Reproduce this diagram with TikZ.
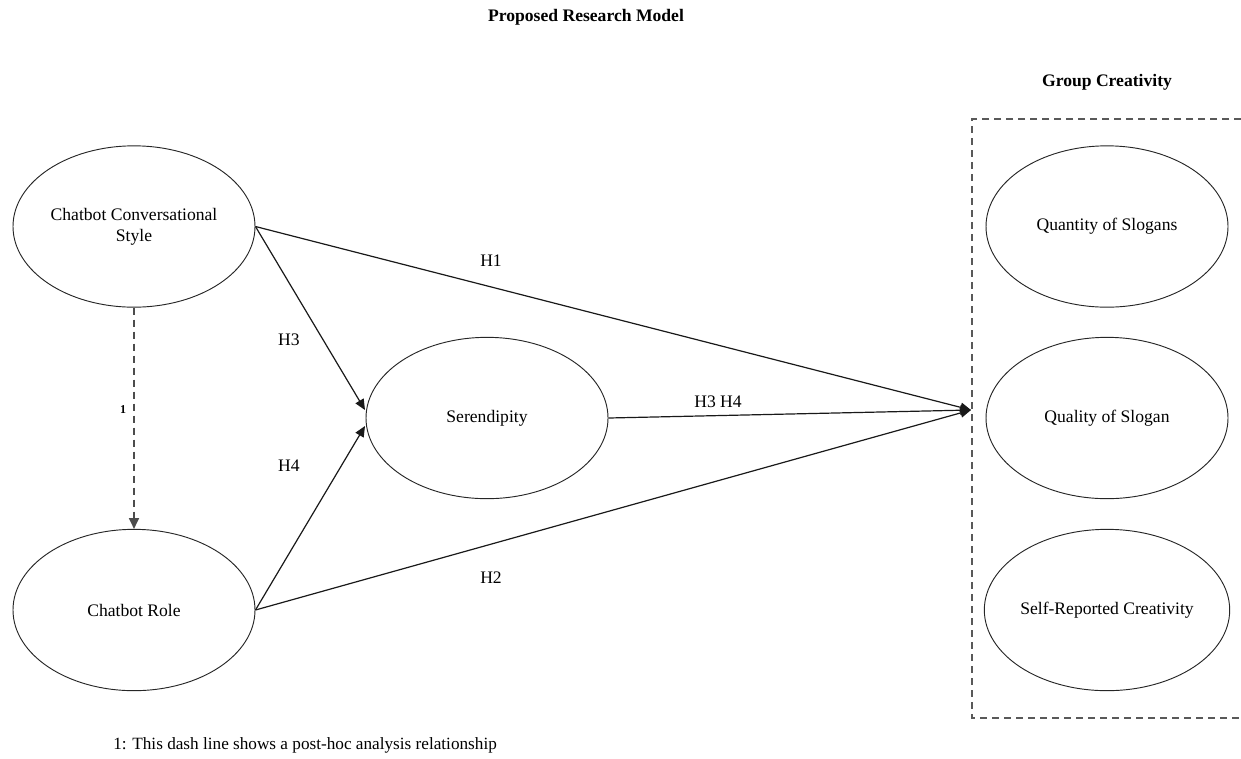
\documentclass[tikz,border=0pt]{standalone}
\usepackage{fontspec}
\setmainfont{Liberation Serif}
\usetikzlibrary{arrows.meta,shapes.geometric}
\begin{document}
\begin{tikzpicture}[x=0.75pt,y=-0.75pt,
  every node/.style={font=\fontsize{13.2}{16}\selectfont},
  construct/.style={draw=black!85, line width=0.7pt, ellipse, minimum width=181.5pt,
    minimum height=121pt, inner sep=0pt, align=center},
  relpath/.style={draw=black!90, line width=0.9pt, -{Triangle[length=8pt,width=7pt]}},
  posthoc/.style={draw=black!70, line width=0.9pt, dash pattern=on 5.5pt off 3.5pt,
    -{Triangle[length=8pt,width=7.5pt]}},
  grpbox/.style={draw=black!65, line width=0.8pt, dash pattern=on 5.5pt off 3.5pt},
  hlabel/.style={inner sep=1pt},
  heading/.style={font=\fontsize{13.2}{16}\selectfont\bfseries}]
\useasboundingbox (0,0) rectangle (1241,758);

% headings
\node[heading] (title) at (586,17) {Proposed Research Model};
\node[heading] (gctitle) at (1107,82) {Group Creativity};

% dashed frame grouping the creativity outcomes (open on the right)
\draw[grpbox] (1241,119) -- (972,119) -- (972,718) -- (1241,718);

% constructs
\node[construct] (ccs) at (134,226.5) {Chatbot Conversational\\Style};
\node[construct] (cr)  at (134,610) {Chatbot Role};
\node[construct] (ser) at (487,418) {Serendipity};
\node[construct] (qty) at (1107,226.5) {Quantity of Slogans};
\node[construct] (qly) at (1107,418) {Quality of Slogan};
\node[construct] (src) at (1107,610) {Self-Reported Creativity};

% arrow targets
\coordinate (gc) at (971,410);
\coordinate (serA) at (365,410);
\coordinate (serB) at (365,426);

% paths
\draw[relpath] (ccs.east) -- (gc);
\draw[relpath] (ccs.east) -- (serA);
\draw[relpath] (cr.east) -- (serB);
\draw[relpath] (cr.east) -- (gc);
\draw[relpath] (ser.east) -- (gc);
\draw[posthoc] (ccs.south) -- (cr.north);

% labels
\node[hlabel] (h1) at (491,261) {H1};
\node[hlabel] (h2) at (491,578) {H2};
\node[hlabel] (h3) at (289,340) {H3};
\node[hlabel] (h4) at (289,466) {H4};
\node[hlabel] (h34) at (718,402) {H3 H4};
\node[hlabel, font=\fontsize{9}{10}\selectfont\bfseries] (one) at (123,410) {1};

% footnote
\node[anchor=west, inner sep=0pt, font=\fontsize{12.9}{15}\selectfont] (note) at (113,745) {1: This dash line shows a post-hoc analysis relationship};
\end{tikzpicture}
\end{document}
